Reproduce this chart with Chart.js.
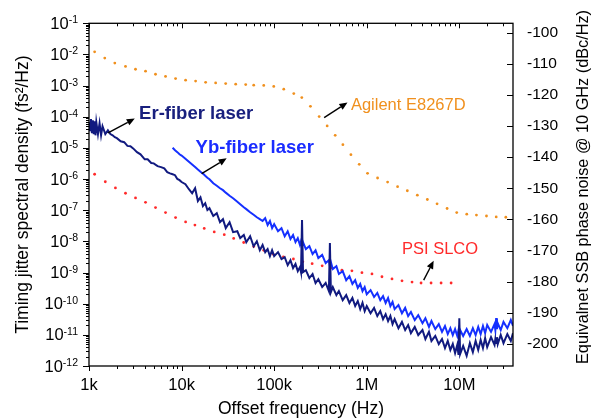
<!DOCTYPE html>
<html lang="en">
<head>
    <meta charset="UTF-8">
    <script src="https://cdn.jsdelivr.net/npm/chart.js"></script>
    <title>Timing jitter spectral density</title>
    <style>
        * {
            margin: 0px;
            padding: 0px;
        }

        body {
            background: #ffffff;
        }
    </style>
</head>

<body>
    <canvas id="myChart" width="594" height="420"></canvas>

    <script>
        // offset frequencies (Hz) shared by the two laser traces
        const freqs = [
            1000, 1025, 1050, 1075, 1100, 1125, 1150, 1175, 1200, 1250, 1300, 1350, 1400, 1500, 1600, 1700, 1800, 1900, 2000,
            2200, 2400, 2600, 2800, 3000, 3300, 3600, 4000, 4300, 4700, 5000, 5500, 6000, 6500, 7000, 7500, 8000, 8500, 9000, 9500,
            10000, 11000, 12000, 13000, 14000, 15000, 16000, 17000, 18000, 19000, 20000, 22000, 24000, 26000, 28000, 30000,
            33000, 36000, 40000, 43000, 47000, 50000, 55000, 60000, 65000, 70000, 75000, 80000, 85000, 90000, 95000,
            1e5, 1.1e5, 1.2e5, 1.3e5, 1.4e5, 1.5e5, 1.6e5, 1.7e5, 1.8e5, 1.9e5, 1.95e5, 2e5, 2.05e5, 2.2e5, 2.4e5, 2.6e5, 2.8e5,
            3e5, 3.3e5, 3.6e5, 3.9e5, 4e5, 4.1e5, 4.3e5, 4.7e5, 5e5, 5.5e5, 6e5, 6.5e5, 7e5, 7.5e5, 8e5, 8.5e5, 9e5, 9.5e5,
            1e6, 1.1e6, 1.2e6, 1.3e6, 1.4e6, 1.5e6, 1.6e6, 1.7e6, 1.8e6, 1.9e6, 2e6, 2.2e6, 2.4e6, 2.6e6, 2.8e6, 3e6, 3.3e6,
            3.6e6, 4e6, 4.3e6, 4.7e6, 5e6, 5.5e6, 6e6, 6.5e6, 7e6, 7.5e6, 8e6, 8.5e6, 9e6, 9.5e6, 9.8e6,
            1e7, 1.02e7, 1.1e7, 1.2e7, 1.3e7, 1.4e7, 1.5e7, 1.6e7, 1.7e7, 1.8e7, 1.9e7, 2e7, 2.2e7, 2.4e7, 2.45e7, 2.5e7,
            2.55e7, 2.6e7, 2.8e7, 3e7, 3.3e7, 3.6e7, 3.8e7
        ];

        // Er-fiber laser, equivalent SSB phase noise at 10 GHz (dBc/Hz)
        const erDbc = [
            -128.8, -131.7, -127.8, -132.3, -128.2, -132.6, -128.5, -133.0, -128.8, -132.6, -129.1, -133.0, -130.1, -132.6,
            -131.4, -132.6, -133.0, -133.6, -133.9, -134.9, -135.2, -136.4, -136.5, -137.2, -138.4, -139.1, -140.7, -140.7,
            -141.9, -142.0, -142.9, -143.2, -143.6, -144.8, -145.2, -145.5, -145.8, -147.0, -147.4,
            -148.0, -148.7, -150.3, -151.6, -150.0, -154.1, -152.9, -155.7, -154.8, -157.0, -156.4, -158.9, -158.0, -160.9,
            -159.9, -162.8, -160.9, -164.1, -163.8, -166.0, -165.0, -167.3, -165.4, -168.6, -167.0, -169.9, -168.2, -170.5,
            -169.5, -171.8, -169.9,
            -171.8, -170.5, -172.7, -172.1, -174.7, -173.1, -175.6, -174.3, -176.6, -175.3, -176.9, -160.2, -176.9, -176.3,
            -178.8, -177.5, -180.4, -179.2, -181.7, -180.4, -183.0, -167.6, -183.3, -181.7, -184.3, -183.0, -185.9, -184.3,
            -186.8, -185.2, -187.8, -186.2, -188.8, -186.8, -189.4,
            -187.8, -190.1, -188.4, -191.0, -189.4, -192.0, -190.4, -192.6, -191.0, -193.6, -192.0, -194.9, -192.9, -195.5,
            -193.9, -196.5, -194.5, -197.1, -195.5, -198.4, -196.1, -199.0, -197.4, -200.0, -198.4, -201.3, -199.0, -201.9,
            -200.0, -202.9, -200.3, -203.5,
            -191.7, -203.2, -200.6, -203.8, -199.7, -202.6, -199.0, -201.9, -198.7, -201.3, -198.1, -201.0, -197.8, -200.3,
            -198.4, -199.7, -197.8, -200.0, -197.1, -199.7, -196.8, -199.0, -196.5
        ];

        // Yb-fiber laser (measured from about 8 kHz)
        const ybDbc = [
            null, null, null, null, null, null, null, null, null, null, null, null, null, null, null, null, null, null, null,
            null, null, null, null, null, null, null, null, null, null, null, null, null, null, null, null,
            -137.0, -137.8, -138.4, -139.1,
            -139.5, -140.5, -141.5, -142.4, -143.2, -144.0, -144.7, -145.3, -146.0, -146.6, -147.1, -148.4, -149.2, -150.0,
            -150.6, -151.4, -152.4, -153.2, -154.3, -155.1, -156.1, -156.7, -157.7, -158.5, -159.3, -159.9, -160.5, -159.6,
            -161.8, -160.5, -162.8,
            -161.5, -163.8, -162.8, -165.4, -163.8, -166.3, -165.0, -167.3, -166.0, -168.2, -167.0, -168.6, -167.3, -169.5,
            -168.6, -171.1, -169.9, -172.4, -171.4, -174.0, -173.1, -175.0, -173.7, -175.9, -175.0, -177.5, -176.6, -179.5,
            -178.2, -180.7, -179.5, -182.0, -180.7, -183.0, -181.7,
            -184.0, -182.7, -184.9, -183.6, -185.9, -184.6, -186.8, -185.2, -187.8, -186.5, -188.8, -187.5, -190.1, -188.4,
            -191.0, -189.7, -192.3, -190.7, -193.3, -191.7, -194.5, -192.6, -195.2, -193.6, -196.1, -194.2, -196.8, -194.9,
            -197.1, -195.2, -197.4, -195.5,
            -197.1, -195.5, -197.4, -195.2, -197.4, -194.9, -197.1, -194.5, -196.8, -194.2, -196.5, -193.9, -196.1, -193.6,
            -195.5, -191.7, -195.2, -193.3, -195.5, -192.9, -194.9, -192.3, -194.2
        ];

        // Agilent E8267D (dotted)
        const agilentFreqs = [
            1150, 1480, 1900, 2480, 3180, 4080, 5230, 6710, 8610, 11050, 14170, 18180, 23330, 29940, 38410, 49270, 60150,
            77170, 99000, 127000, 162900, 198900, 246500, 306200, 373600, 456200, 552600, 674500, 829500, 1.02e6, 1.309e6,
            1.68e6, 2.154e6, 2.744e6, 3.52e6, 4.515e6, 5.751e6, 7.379e6, 9.374e6, 1.203e7, 1.531e7, 1.965e7, 2.502e7, 3.178e7
        ];
        const agilentDbc = [
            -106.2, -108.2, -109.8, -110.9, -111.8, -112.4, -113.4, -114.1, -114.8, -115.3, -115.6, -116.0, -116.2, -116.4,
            -116.6, -116.7, -116.9, -117.0, -117.3, -118.2, -119.6, -120.9, -123.7, -127.0, -130.0, -133.0, -136.0, -139.2,
            -142.3, -145.2, -146.7, -148.0, -149.5, -150.8, -152.2, -153.6, -155.0, -156.5, -157.8, -158.3, -158.6, -158.9,
            -159.2, -159.3
        ];

        // PSI SLCO (dotted)
        const psiFreqs = [
            1150, 1500, 1930, 2480, 3180, 4080, 5230, 6710, 8610, 11050, 13930, 17560, 22530, 28910, 36540, 46880, 60150,
            77170, 98000, 125800, 161400, 203900, 257200, 330000, 423200, 539000, 691500, 887500, 1.139e6, 1.46e6, 1.874e6,
            2.404e6, 3.085e6, 3.86e6, 4.952e6, 6.353e6, 8.152e6
        ];
        const psiDbc = [
            -145.5, -147.9, -149.9, -151.6, -153.1, -154.5, -156.2, -157.8, -159.4, -160.8, -161.8, -162.9, -164.0, -164.9,
            -166.1, -167.4, -168.7, -169.9, -171.2, -172.0, -172.7, -173.6, -174.2, -174.9, -175.6, -176.3, -176.5, -177.1,
            -177.5, -178.4, -179.1, -179.7, -180.1, -180.4, -180.4, -180.4, -180.4
        ];

        const xTicks = [1e3, 1e4, 1e5, 1e6, 1e7];
        const xTickLabels = ['1k', '10k', '100k', '1M', '10M'];
        const yExponents = [-1, -2, -3, -4, -5, -6, -7, -8, -9, -10, -11, -12];
        const y2Ticks = [-100, -110, -120, -130, -140, -150, -160, -170, -180, -190, -200];

        const fuente = '"Liberation Sans", Arial, sans-serif';
        const portadora = 10e9;

        // fs^2/Hz -> dBc/Hz at a 10 GHz carrier
        function aDbc(s) {
            return 10 * Math.log10(s * 1e-30 * Math.pow(2 * Math.PI * portadora, 2) / 2);
        }

        const notas = [
            { text: 'Er-fiber laser', x: 3476, y: -127.9, color: '#19207e', font: 'bold 18.5px ' + fuente, arrow: [1605, -132.2, 3123, -127.6] },
            { text: 'Yb-fiber laser', x: 14170, y: -138.6, color: '#1a2cff', font: 'bold 18.5px ' + fuente, arrow: [16470, -145.3, 30690, -140.4] },
            { text: 'Agilent E8267D', x: 674500, y: -124.9, color: '#f0901e', font: '16.5px ' + fuente, arrow: [346700, -127.3, 619500, -122.5] },
            { text: 'PSI SLCO', x: 2.404e6, y: -171.1, color: '#ff2a2a', font: '16.5px ' + fuente, arrow: [4.12e6, -179.5, 5.28e6, -173.3] }
        ];

        function flecha(ctx, x1, y1, x2, y2) {
            const ang = Math.atan2(y2 - y1, x2 - x1);
            const largo = 8, ancho = 3.5;
            const bx = x2 - largo * Math.cos(ang), by = y2 - largo * Math.sin(ang);
            ctx.beginPath();
            ctx.moveTo(x1, y1);
            ctx.lineTo(bx, by);
            ctx.stroke();
            ctx.beginPath();
            ctx.moveTo(x2, y2);
            ctx.lineTo(bx + ancho * Math.sin(ang), by - ancho * Math.cos(ang));
            ctx.lineTo(bx - ancho * Math.sin(ang), by + ancho * Math.cos(ang));
            ctx.closePath();
            ctx.fill();
        }

        const anotaciones = {
            id: 'anotaciones',
            afterDatasetsDraw(chart) {
                const ctx = chart.ctx, sx = chart.scales.x, sy = chart.scales.y2;
                ctx.save();
                notas.forEach(n => {
                    ctx.font = n.font;
                    ctx.fillStyle = n.color;
                    ctx.textAlign = 'left';
                    ctx.textBaseline = 'alphabetic';
                    ctx.fillText(n.text, sx.getPixelForValue(n.x), sy.getPixelForValue(n.y));
                    ctx.strokeStyle = '#000';
                    ctx.fillStyle = '#000';
                    ctx.lineWidth = 1.4;
                    flecha(ctx, sx.getPixelForValue(n.arrow[0]), sy.getPixelForValue(n.arrow[1]),
                        sx.getPixelForValue(n.arrow[2]), sy.getPixelForValue(n.arrow[3]));
                });
                ctx.restore();
            }
        };

        const marco = {
            id: 'marco',
            afterDraw(chart) {
                const ctx = chart.ctx, a = chart.chartArea;
                const sx = chart.scales.x, sy = chart.scales.y, sy2 = chart.scales.y2;
                ctx.save();
                ctx.strokeStyle = '#000';
                ctx.lineWidth = 1.3;
                ctx.strokeRect(a.left, a.top, a.right - a.left, a.bottom - a.top);
                ctx.lineWidth = 1;
                ctx.beginPath();
                // x: outward at the bottom, inward at the top
                for (let e = 3; e <= 7; e++) {
                    for (let m = 1; m <= 9; m++) {
                        const v = m * Math.pow(10, e);
                        if (v < sx.min || v > sx.max) continue;
                        const p = Math.round(sx.getPixelForValue(v)) + 0.5;
                        const l = m === 1 ? 5 : 3;
                        ctx.moveTo(p, a.bottom); ctx.lineTo(p, a.bottom + l);
                        ctx.moveTo(p, a.top); ctx.lineTo(p, a.top + l);
                    }
                }
                // left: outward
                for (let e = -12; e <= -1; e++) {
                    for (let m = 1; m <= 9; m++) {
                        const v = m * Math.pow(10, e);
                        if (v > sy.max * 1.0001) continue;
                        const p = Math.round(sy.getPixelForValue(v)) + 0.5;
                        const l = m === 1 ? 6 : 3;
                        ctx.moveTo(a.left - l, p); ctx.lineTo(a.left, p);
                    }
                }
                // right: inward
                y2Ticks.forEach(v => {
                    const p = Math.round(sy2.getPixelForValue(v)) + 0.5;
                    ctx.moveTo(a.right - 6, p); ctx.lineTo(a.right, p);
                });
                ctx.stroke();

                // left tick labels with exponents
                ctx.fillStyle = '#000';
                ctx.textAlign = 'left';
                yExponents.forEach(e => {
                    const p = sy.getPixelForValue(Math.pow(10, e));
                    const exp = '-' + Math.abs(e);
                    ctx.font = '10.5px ' + fuente;
                    const we = ctx.measureText(exp).width;
                    ctx.font = '16.5px ' + fuente;
                    const wb = ctx.measureText('10').width;
                    const x0 = a.left - 11 - we - wb;
                    ctx.textBaseline = 'middle';
                    ctx.fillText('10', x0, p + 1);
                    ctx.font = '10.5px ' + fuente;
                    ctx.textBaseline = 'alphabetic';
                    ctx.fillText(exp, x0 + wb, p);
                });

                // right axis title, reading upwards
                ctx.font = '16.3px ' + fuente;
                ctx.textAlign = 'center';
                ctx.textBaseline = 'middle';
                ctx.translate(584, 187);
                ctx.rotate(-Math.PI / 2);
                ctx.fillText('Equivalnet SSB phase noise @ 10 GHz (dBc/Hz)', 0, 0);
                ctx.restore();
            }
        };

        const ctx = document.getElementById('myChart').getContext('2d');

        const myChart = new Chart(ctx, {
            type: 'line',
            data: {
                datasets: [{
                    label: 'Er-fiber laser',
                    data: freqs.map((f, i) => ({ x: f, y: erDbc[i] })),
                    borderColor: '#111a80',
                    borderWidth: 2,
                    pointRadius: 0,
                    tension: 0,
                    yAxisID: 'y2'
                }, {
                    label: 'Yb-fiber laser',
                    data: freqs.map((f, i) => ({ x: f, y: ybDbc[i] })).filter(p => p.y !== null),
                    borderColor: '#1530ff',
                    borderWidth: 2,
                    pointRadius: 0,
                    tension: 0,
                    yAxisID: 'y2'
                }, {
                    label: 'Agilent E8267D',
                    data: agilentFreqs.map((f, i) => ({ x: f, y: agilentDbc[i] })),
                    showLine: false,
                    pointRadius: 1.4,
                    pointBorderWidth: 0,
                    pointBackgroundColor: '#f0901e',
                    yAxisID: 'y2'
                }, {
                    label: 'PSI SLCO',
                    data: psiFreqs.map((f, i) => ({ x: f, y: psiDbc[i] })),
                    showLine: false,
                    pointRadius: 1.4,
                    pointBorderWidth: 0,
                    pointBackgroundColor: '#ff2a2a',
                    yAxisID: 'y2'
                }]
            },
            options: {
                responsive: false,
                animation: false,
                layout: { padding: { top: 23, left: 0, right: 0, bottom: 0 } },
                plugins: {
                    legend: { display: false },
                    tooltip: { enabled: false }
                },
                scales: {
                    x: {
                        type: 'logarithmic',
                        position: 'bottom',
                        min: 1000,
                        max: 3.8e7,
                        grid: { display: false, drawTicks: false },
                        border: { display: false },
                        afterBuildTicks: s => { s.ticks = xTicks.map(v => ({ value: v })); },
                        afterFit: s => { s.height = 54; },
                        ticks: {
                            color: '#000',
                            font: { family: fuente, size: 16.5 },
                            padding: 10,
                            maxRotation: 0,
                            autoSkip: false,
                            callback: v => xTickLabels[xTicks.indexOf(v)] || ''
                        },
                        title: {
                            display: true,
                            text: 'Offset frequency (Hz)',
                            color: '#000',
                            font: { family: fuente, size: 17.5 },
                            padding: { top: 0, bottom: 0 }
                        }
                    },
                    y: {
                        type: 'logarithmic',
                        position: 'left',
                        min: 1e-12,
                        max: 1e-1,
                        grid: { display: false, drawTicks: false },
                        border: { display: false },
                        ticks: { display: false },
                        afterFit: s => { s.width = 89; },
                        title: {
                            display: true,
                            text: 'Timing jitter spectral density (fs²/Hz)',
                            color: '#000',
                            font: { family: fuente, size: 17.5 },
                            padding: { top: 13, bottom: 0 }
                        }
                    },
                    y2: {
                        type: 'linear',
                        position: 'right',
                        min: aDbc(1e-12),
                        max: aDbc(1e-1),
                        grid: { display: false, drawTicks: false },
                        border: { display: false },
                        afterBuildTicks: s => { s.ticks = y2Ticks.map(v => ({ value: v })); },
                        afterFit: s => { s.width = 81; },
                        ticks: {
                            color: '#000',
                            font: { family: fuente, size: 15.5 },
                            padding: 14
                        }
                    }
                }
            },
            plugins: [anotaciones, marco]
        });
    </script>
</body>

</html>
